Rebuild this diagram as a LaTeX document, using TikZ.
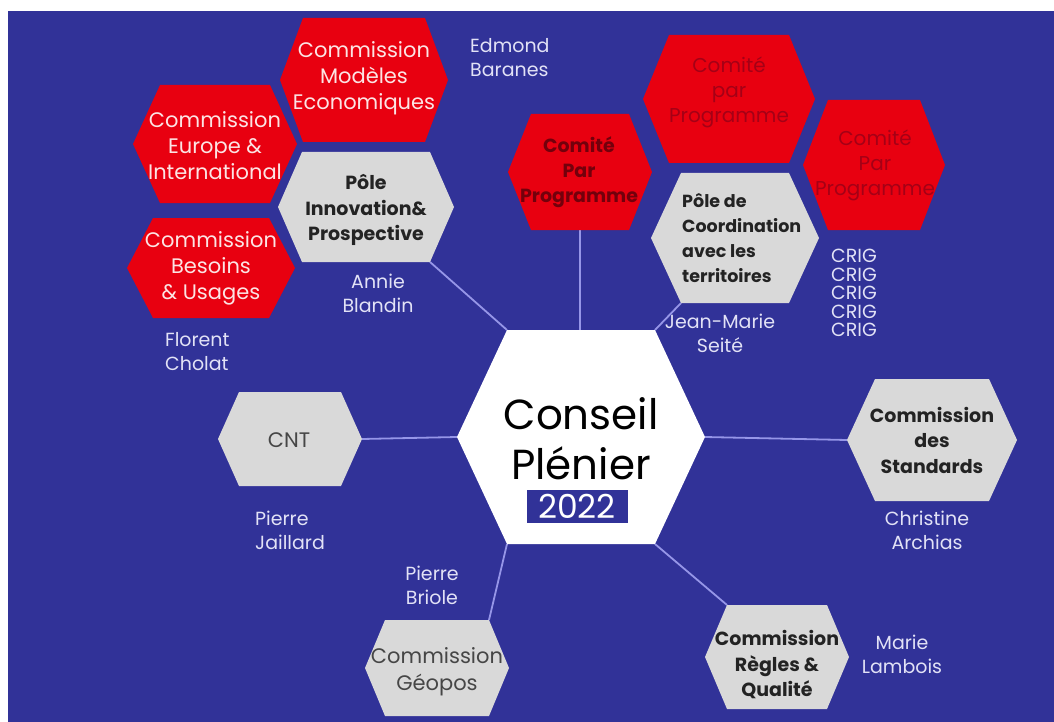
\documentclass[tikz,border=0pt]{standalone}
\usepackage{fontspec}
\setmainfont{Poppins}

% hexagon with flat top and bottom edges:
% #1 name, #2 cx, #3 cy, #4 half width, #5 half height, #6 half top edge, #7 style
\newcommand\hexcell[7]{%
  \path[#7]
    (#2-#4,#3)        coordinate (#1-w)
 -- (#2-#6,#3-#5)     coordinate (#1-nw)
 -- (#2+#6,#3-#5)     coordinate (#1-ne)
 -- (#2+#4,#3)        coordinate (#1-e)
 -- (#2+#6,#3+#5)     coordinate (#1-se)
 -- (#2-#6,#3+#5)     coordinate (#1-sw)
 -- cycle;
  \coordinate (#1-n) at (#2,#3-#5);
  \coordinate (#1-s) at (#2,#3+#5);
}

\definecolor{bgblue}{RGB}{49,50,152}
\definecolor{hexred}{RGB}{232,0,16}
\definecolor{hexgray}{RGB}{217,217,217}
\definecolor{linkc}{RGB}{150,150,232}
\definecolor{lav}{RGB}{226,226,246}
\definecolor{pinkw}{RGB}{252,228,228}
\definecolor{deepred}{RGB}{115,0,12}
\definecolor{dimred}{RGB}{165,0,22}
\definecolor{ink}{RGB}{35,35,35}
\definecolor{grayink}{RGB}{70,70,70}

\tikzset{
  conn/.style={draw=linkc, line width=1.8pt},
  redhex/.style={fill=hexred},
  grayhex/.style={fill=hexgray},
  whitehex/.style={fill=white},
  txt/.style={inner sep=0pt, align=center},
  redtxt/.style={txt, text=pinkw, font=\fontsize{21}{26}\selectfont},
  comtxt/.style={txt, text=deepred, font=\bfseries\fontsize{19}{25}\selectfont},
  comdim/.style={txt, text=dimred, font=\fontsize{20}{25}\selectfont},
  graybold/.style={txt, text=ink, font=\bfseries\fontsize{19}{25.5}\selectfont},
  grayplain/.style={txt, text=grayink, font=\fontsize{21}{27}\selectfont},
  person/.style={txt, text=lav, font=\fontsize{19}{24}\selectfont},
}

\begin{document}
\begin{tikzpicture}[x=1pt,y=-1pt]
\useasboundingbox (0,0) rectangle (1054,722);
\fill[white] (0,0) rectangle (1054,722);
\fill[bgblue] (8,11) rectangle (1054,722);

% hexagon outlines and vertex coordinates (drawn later on top of the links)
\begin{scope}[opacity=0]
\hexcell{cp}{581}{437}{124}{107}{74}{}
\hexcell{cnt}{290}{439}{72}{47}{51}{}
\hexcell{std}{932}{440}{85}{61}{57}{}
\hexcell{reg}{777}{657}{72}{52}{50}{}
\hexcell{geo}{437}{668}{72}{48}{52}{}
\hexcell{pin}{366}{207}{88}{55}{64}{}
\hexcell{cm}{580}{172}{72}{58}{49}{}
\hexcell{pc}{735}{238}{84}{65}{54}{}
\end{scope}

% links from the central cell
\draw[conn] (cp-nw) -- (pin-se);
\draw[conn] (cm-s |- cp-nw) -- (cm-s);
\draw[conn] (cp-ne) -- (pc-sw);
\draw[conn] (cp-w) -- (cnt-e);
\draw[conn] (cp-e) -- (std-w);
\draw[conn] (cp-sw) -- (geo-ne);
\draw[conn] (cp-se) -- (reg-nw);

% cells
\hexcell{cp}{581}{437}{124}{107}{74}{whitehex}
\hexcell{cnt}{290}{439}{72}{47}{51}{grayhex}
\hexcell{std}{932}{440}{85}{61}{57}{grayhex}
\hexcell{reg}{777}{657}{72}{52}{50}{grayhex}
\hexcell{geo}{437}{668}{72}{48}{52}{grayhex}
\hexcell{pin}{366}{207}{88}{55}{64}{grayhex}
\hexcell{pc}{735}{238}{84}{65}{54}{grayhex}
\hexcell{cm}{580}{172}{72}{58}{49}{redhex}
\hexcell{cb}{729}{99}{86}{64}{60}{redhex}
\hexcell{cr}{874}{165}{71}{65}{46}{redhex}
\hexcell{eur}{215}{144}{82}{59}{55}{redhex}
\hexcell{mod}{364}{80}{84}{62}{61}{redhex}
\hexcell{bes}{211}{268}{84}{50}{58}{redhex}

% central title
\node[txt, text=black, font=\fontsize{42}{50}\selectfont] (cpt) at (581,439) {Conseil\\Plénier};
\node[fill=bgblue, text=white, inner sep=0pt, minimum width=101pt, minimum height=33pt,
      font=\fontsize{33}{33}\selectfont] (year) at (577,506) {2022};

% cell labels
\node[grayplain] (cntt) at (289,440) {CNT};
\node[graybold] (stdt) at (932,440) {Commission\\des\\Standards};
\node[graybold] (regt) at (777,665) {Commission\\Règles \&\\Qualité};
\node[grayplain] (geot) at (437,672) {Commission\\Géopos};
\node[graybold] (pint) at (366,210) {Pôle\\Innovation\&\\Prospective};
\node[graybold, align=left, anchor=west, font=\bfseries\fontsize{17.5}{25}\selectfont] (pct) at (682,238) {Pôle de\\Coordination\\avec les\\territoires};
\node[comtxt] (cmt) at (579,172) {Comité\\Par\\Programme};
\node[comdim] (cbt) at (729,92) {Comité\\par\\Programme};
\node[comdim] (crt) at (875,165) {Comité\\Par\\Programme};
\node[redtxt] (eurt) at (215,146) {Commission\\Europe \&\\International};
\node[redtxt] (modt) at (364,78) {Commission\\Modèles\\Economiques};
\node[redtxt] (best) at (211,268) {Commission\\Besoins\\\& Usages};

% people
\node[person, align=left, anchor=west] (ed) at (470,58) {Edmond\\Baranes};
\node[person] (an) at (378,293) {Annie\\Blandin};
\node[person, align=left, anchor=west] (fl) at (165,352) {Florent\\Cholat};
\node[person] (jm) at (720,333) {Jean-Marie\\Seité};
\node[person, align=left, anchor=west, font=\fontsize{19}{18.5}\selectfont] (crig) at (831,293) {CRIG\\CRIG\\CRIG\\CRIG\\CRIG};
\node[person, align=left, anchor=west] (pj) at (255,530) {Pierre\\Jaillard};
\node[person] (pb) at (432,585) {Pierre\\Briole};
\node[person] (ca) at (927,530) {Christine\\Archias};
\node[person] (ml) at (902,654) {Marie\\Lambois};
\end{tikzpicture}
\end{document}
